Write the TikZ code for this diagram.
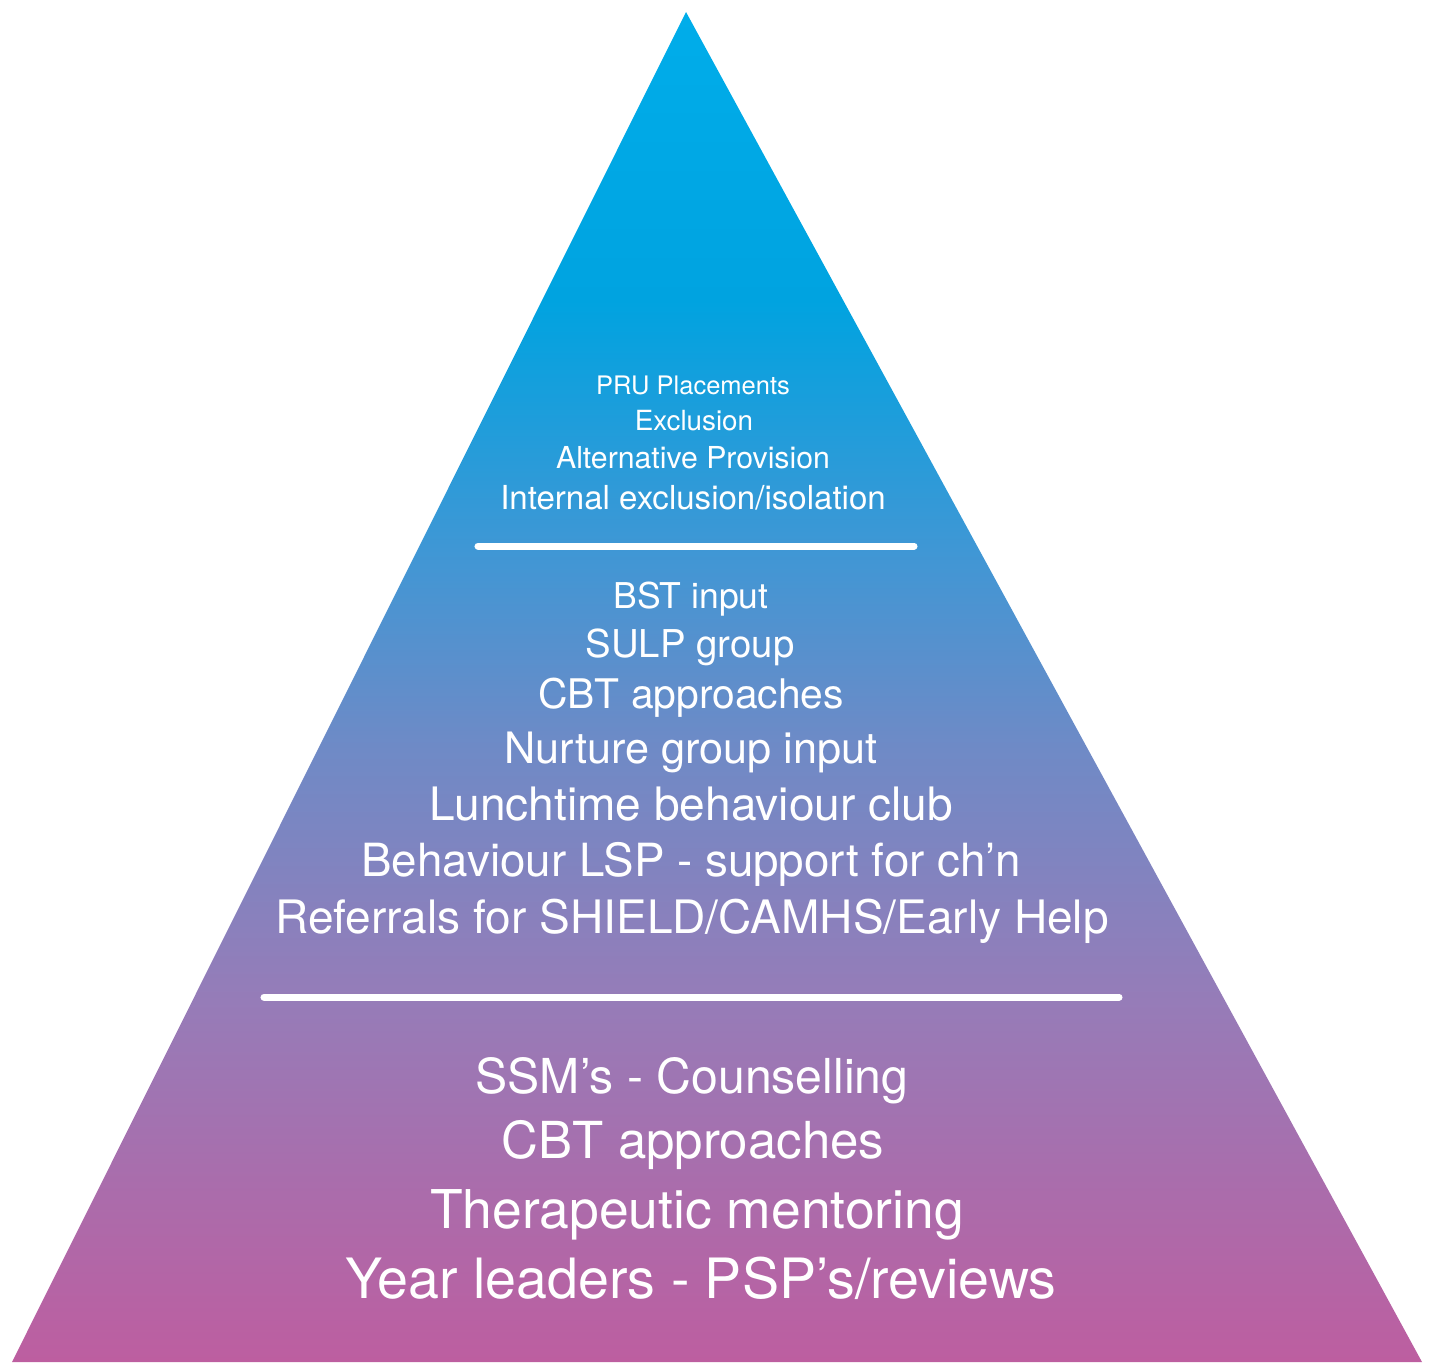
\documentclass[tikz,border=0pt]{standalone}
\usepackage{fontspec}
\setmainfont{TeX Gyre Heros}
\usepackage{tikz}

\definecolor{pyrtop}{HTML}{00ADEA}
\definecolor{pyrcyan}{HTML}{00A3E0}
\definecolor{pyrsky}{HTML}{3F97D5}
\definecolor{pyrperi}{HTML}{6F8AC6}
\definecolor{pyrlav}{HTML}{967CB8}
\definecolor{pyrbase}{HTML}{BD5EA0}

% cyan at the apex, pink at the base
\pgfdeclareverticalshading{pyramid}{100bp}{color(0bp)=(pyrbase); color(25bp)=(pyrbase);
  color(38.4bp)=(pyrlav); color(47.7bp)=(pyrperi); color(55.1bp)=(pyrsky);
  color(64.3bp)=(pyrcyan); color(75bp)=(pyrtop); color(100bp)=(pyrtop)}

\newcommand{\fsz}[1]{\fontsize{#1}{#1}\selectfont}

\begin{document}
\begin{tikzpicture}[x=0.01cm, y=-0.01cm,
    item/.style={text=white, anchor=base, inner sep=0pt},
    divider/.style={draw=white, line width=2pt, line cap=round}]
  \useasboundingbox (0,0) rectangle (1434,1362);
  % Pyramid
  \coordinate (apex) at (686,12);
  \coordinate (baseL) at (12,1362);
  \coordinate (baseR) at (1422,1362);
  \shade[shading=pyramid] (apex) -- (baseR) -- (baseL) -- cycle;

  % Top tier
  \node[item, font=\fsz{7.25pt}] (pru) at (693,394) {PRU Placements};
  \node[item, font=\fsz{7.9pt}] (excl) at (694,430) {Exclusion};
  \node[item, font=\fsz{8.6pt}] (altprov) at (693,468) {Alternative Provision};
  \node[item, font=\fsz{9.4pt}] (isol) at (693,509) {Internal exclusion/isolation};

  \coordinate (divAL) at (478,546);
  \coordinate (divAR) at (914,546);
  \draw[divider] (divAL) -- (divAR);

  % Middle tier
  \node[item, font=\fsz{10.1pt}] (bst) at (691,608) {BST input};
  \node[item, font=\fsz{10.9pt}] (sulp) at (690,657) {SULP group};
  \node[item, font=\fsz{11.6pt}] (cbtA) at (691,708) {CBT approaches};
  \node[item, font=\fsz{12.3pt}] (nurture) at (691,763) {Nurture group input};
  \node[item, font=\fsz{13.1pt}] (lunch) at (691,820) {Lunchtime behaviour club};
  \node[item, font=\fsz{13.0pt}] (lsp) at (691,876) {Behaviour LSP - support for ch’n};
  \node[item, font=\fsz{13.1pt}] (referrals) at (692,933) {Referrals for SHIELD/CAMHS/Early Help};

  \coordinate (divBL) at (264,997);
  \coordinate (divBR) at (1119,997);
  \draw[divider] (divBL) -- (divBR);

  % Bottom tier
  \node[item, font=\fsz{13.7pt}] (ssm) at (692,1093) {SSM’s - Counselling};
  \node[item, font=\fsz{14.5pt}] (cbtB) at (693,1158) {CBT approaches};
  \node[item, font=\fsz{15.2pt}] (mentor) at (697,1228) {Therapeutic mentoring};
  \node[item, font=\fsz{15.8pt}] (leaders) at (701,1298) {Year leaders - PSP’s/reviews};
\end{tikzpicture}
\end{document}
